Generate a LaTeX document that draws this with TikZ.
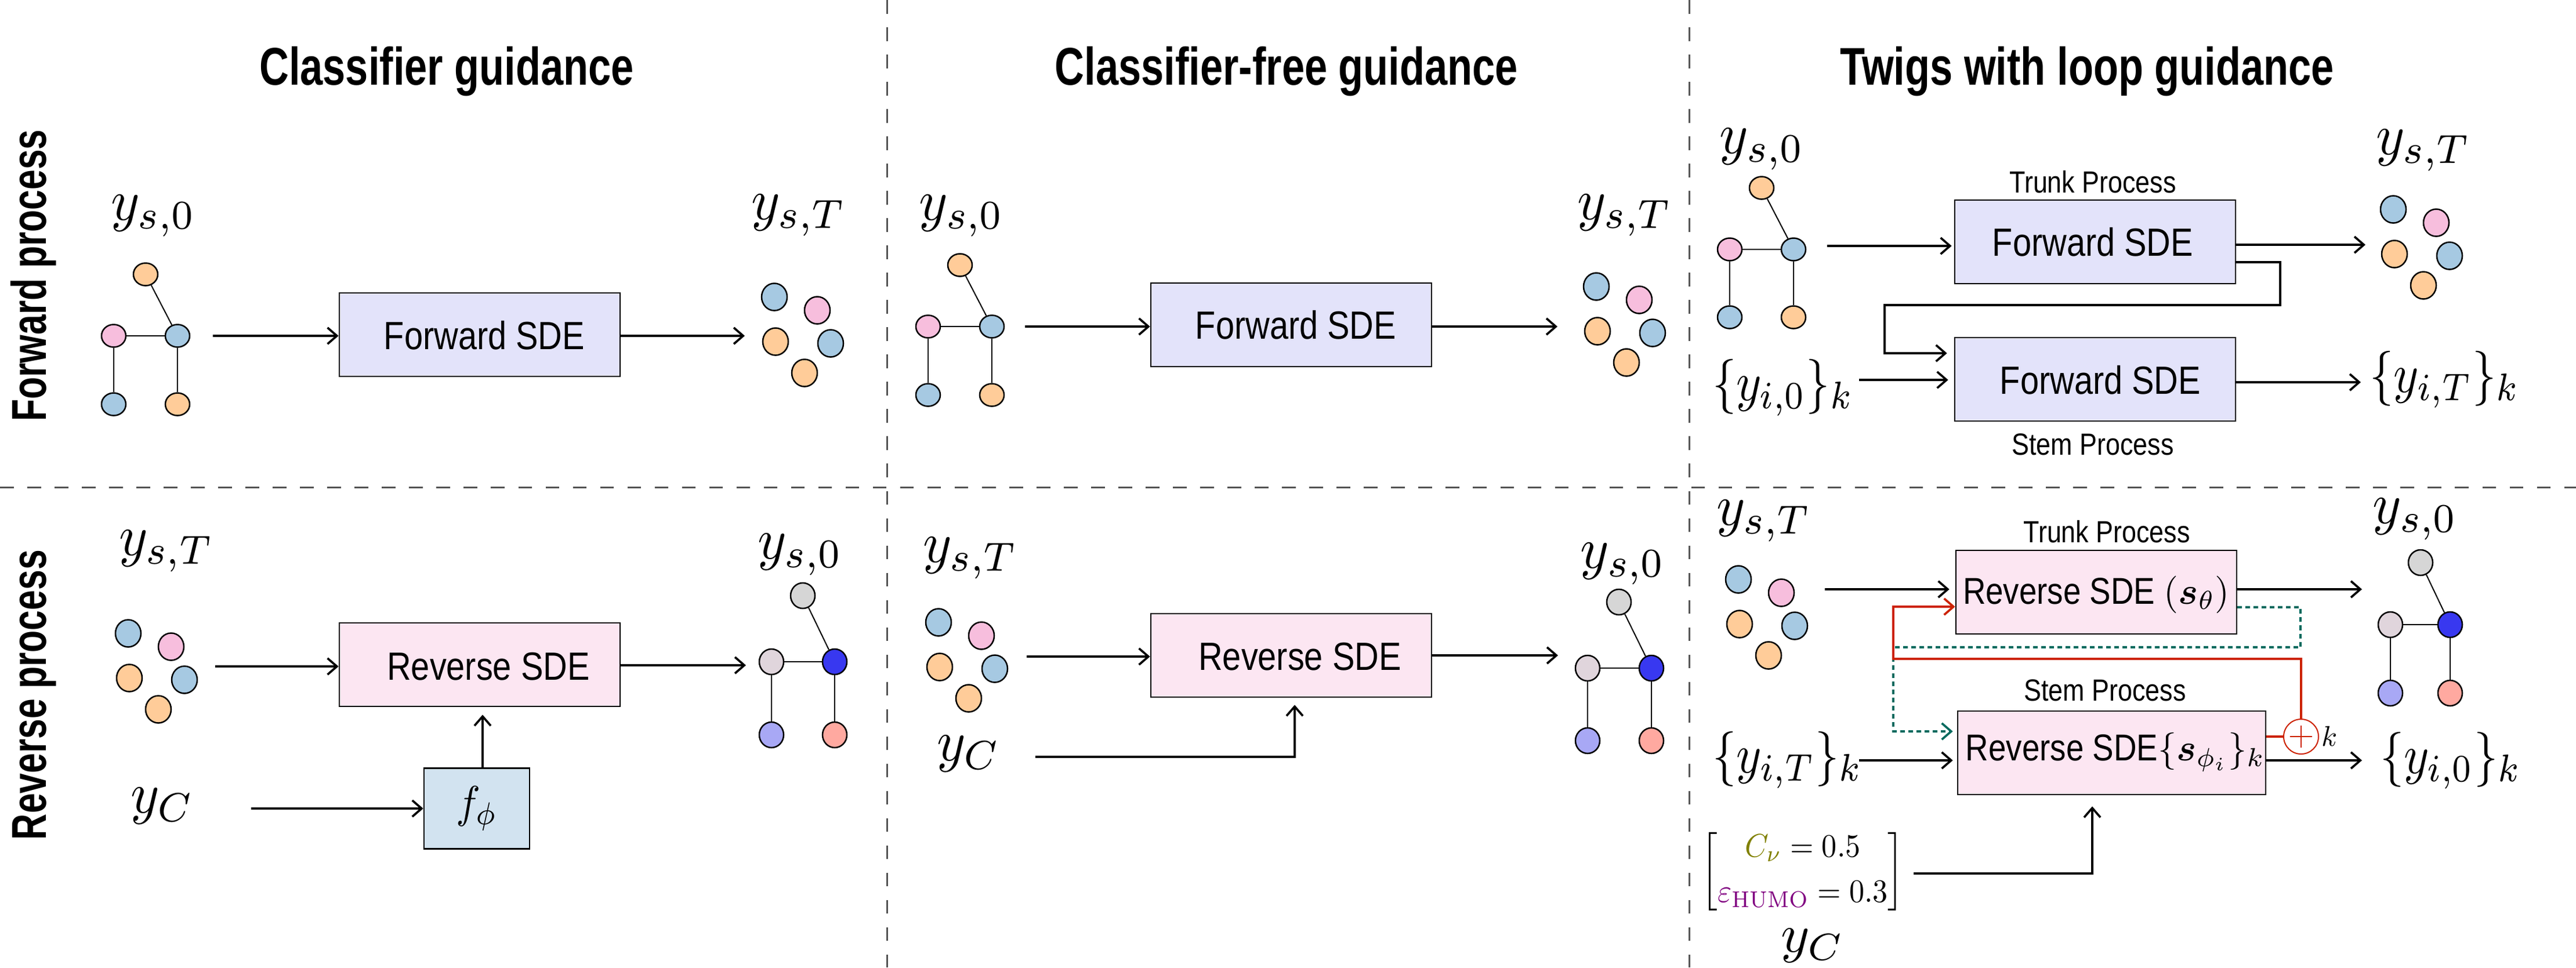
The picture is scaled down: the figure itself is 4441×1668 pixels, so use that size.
\documentclass[tikz,border=0pt]{standalone}
\usepackage{amsmath}
\usepackage[no-math]{fontspec}
\usetikzlibrary{arrows.meta,shapes.geometric}
\newfontfamily\condfont[FakeStretch=.85]{Liberation Sans}
\newfontfamily\headfont[FakeStretch=.77]{Liberation Sans}
\newfontfamily\rowfont[FakeStretch=.74]{Liberation Sans}
\definecolor{Ftop}{HTML}{FFCC99}
\definecolor{Fleft}{HTML}{F7BEDD}
\definecolor{Fright}{HTML}{A6C9E2}
\definecolor{Fbl}{HTML}{A6C9E2}
\definecolor{Fbr}{HTML}{FFCC99}
\definecolor{Rtop}{HTML}{D6D6D6}
\definecolor{Rleft}{HTML}{E0D5DC}
\definecolor{Rright}{HTML}{3838F0}
\definecolor{Rbl}{HTML}{A8A8F5}
\definecolor{Rbr}{HTML}{FFA9A0}
\definecolor{fwdfill}{HTML}{E3E3FA}
\definecolor{revfill}{HTML}{FCE6F2}
\definecolor{clsfill}{HTML}{D2E3F0}
\definecolor{redline}{HTML}{CC2200}
\definecolor{tealline}{HTML}{006A5E}
\definecolor{oliveC}{HTML}{808000}
\definecolor{purpleC}{HTML}{800080}
\definecolor{divider}{HTML}{555555}
\tikzset{
  x=0.01cm, y=-0.01cm,
  tipbarb/.tip={Straight Barb[length=4.6pt,width=8pt,line width=1.05pt]},
  divline/.style={draw=divider, line width=.03cm, dash pattern=on .235cm off .235cm},
  arr/.style={draw=black, line width=.036cm, -tipbarb},
  redarr/.style={draw=redline, line width=.033cm, -tipbarb},
  tealarr/.style={draw=tealline, line width=.035cm, dash pattern=on .08cm off .06cm, -tipbarb},
  procbox/.style={draw=black, line width=.025cm, minimum width=4.84cm, minimum height=1.44cm, inner sep=0pt},
  fwdbox/.style={procbox, fill=fwdfill},
  revbox/.style={procbox, fill=revfill},
  sde/.style={inner sep=0pt, font=\condfont, scale=1.93},
  sdesmall/.style={inner sep=0pt, font=\condfont, scale=1.83},
  proclabel/.style={inner sep=0pt, font=\condfont, scale=1.5},
  mathlbl/.style={inner sep=0pt, xshift=.05cm, xscale=2.68, yscale=2.85},
  setlbl/.style={inner sep=0pt, xscale=2.35, yscale=2.7},
  coltitle/.style={inner sep=0pt, anchor=base, font=\headfont\bfseries, scale=2.6},
  rowtitle/.style={inner sep=0pt, anchor=base, rotate=90, font=\rowfont\bfseries, scale=2.4},
  dot/.style={ellipse, draw=black, line width=.025cm, inner sep=0pt, minimum width=.44cm, minimum height=.47cm},
  gn/.style={ellipse, draw=black, line width=.025cm, inner sep=0pt, minimum width=.42cm},
  gnF/.style={gn, minimum height=.39cm},
  gnR/.style={gn, minimum height=.44cm},
  gedge/.style={draw=black, line width=.02cm},
}
% #1 name, #2 x, #3 y of the right middle node, #4 #5 offset of the top node, #6 offset of the left node, #7 offset of lower nodes, #8 palette F or R
\newcommand{\treegraph}[8]{
  \node[gn#8, fill=#8right] (#1r) at (#2,#3) {};
  \node[gn#8, fill=#8top] (#1t) at (#2+#4,#3+#5) {};
  \node[gn#8, fill=#8left] (#1l) at (#2+#6,#3) {};
  \node[gn#8, fill=#8bl] (#1a) at (#2+#6,#3+#7) {};
  \node[gn#8, fill=#8br] (#1b) at (#2,#3+#7) {};
  \draw[gedge] (#1r) -- (#1t);
  \draw[gedge] (#1r) -- (#1l);
  \draw[gedge] (#1r) -- (#1b);
  \draw[gedge] (#1l) -- (#1a);
}
% #1 name, #2 x, #3 y of the first dot
\newcommand{\dotcloud}[3]{
  \node[dot, fill=Fright] (#1a) at (#2,#3) {};
  \node[dot, fill=Fleft] (#1b) at (#2+74,#3+23) {};
  \node[dot, fill=Ftop] (#1c) at (#2+2,#3+77) {};
  \node[dot, fill=Fright] (#1d) at (#2+97,#3+80) {};
  \node[dot, fill=Ftop] (#1e) at (#2+52,#3+131) {};
}
\begin{document}
\begin{tikzpicture}
\useasboundingbox (0,0) rectangle (4441,1668);
% dividers
\coordinate (dv1a) at (1529,0); \coordinate (dv1b) at (1529,1668);
\coordinate (dv2a) at (2912,0); \coordinate (dv2b) at (2912,1668);
\coordinate (dha) at (0,840); \coordinate (dhb) at (4441,840);
\draw[divline] (dv1a) -- (dv1b);
\draw[divline] (dv2a) -- (dv2b);
\draw[divline] (dha) -- (dhb);
% headings
\node[coltitle] (h1) at (770,146) {Classifier guidance};
\node[coltitle] (h2) at (2218,146) {Classifier-free guidance};
\node[coltitle] (h3) at (3598,146) {Twigs with loop guidance};
\node[rowtitle] (r1) at (80,475) {Forward process};
\node[rowtitle] (r2) at (80,1198) {Reverse process};

% ---------- column 1, forward
\node[fwdbox] (af) at (827,577) {};
\node[sde] (aft) at (835,578) {Forward SDE};
\treegraph{atf}{306}{579}{-55}{-106}{-110}{118}{F}
\dotcloud{adf}{1335}{512}
\node[mathlbl] (afl) at (260,372) {$y_{s,0}$};
\node[mathlbl] (afr) at (1372,371) {$y_{s,T}$};
\coordinate (afin) at (367,579); \coordinate (afout) at (1284,579);
\draw[arr] (afin) -- (afin -| af.west);
\draw[arr] (afout -| af.east) -- (afout);

% ---------- column 1, reverse
\node[revbox] (ar) at (827,1146) {};
\node[sde] (art) at (842,1149) {Reverse SDE};
\treegraph{atr}{1439}{1141}{-55}{-114}{-109}{126}{R}
\dotcloud{adr}{221}{1092}
\node[mathlbl] (arl) at (282,950) {$y_{s,T}$};
\node[mathlbl] (arr) at (1375,956) {$y_{s,0}$};
\node[mathlbl] (ayc) at (275,1390) {$y_C$};
\node[draw=black, line width=.025cm, fill=clsfill, minimum width=1.82cm, minimum height=1.39cm, inner sep=0pt] (afn) at (822,1394) {};
\node[inner sep=0pt, xscale=2, yscale=2.2] (afnt) at (822,1394) {$f_\phi$};
\coordinate (arin) at (371,1149); \coordinate (arout) at (1286,1147);
\coordinate (acin) at (433,1394); \coordinate (acup) at (832,1324);
\draw[arr] (arin) -- (arin -| ar.west);
\draw[arr] (arout -| ar.east) -- (arout);
\draw[arr] (acin) -- (acin -| afn.west);
\draw[arr] (acup) -- (acup |- ar.south) [shorten >=.13cm];

% ---------- column 2, forward
\node[fwdbox] (bf) at (2226,560) {};
\node[sde] (bft) at (2234,560) {Forward SDE};
\treegraph{btf}{1710}{563}{-55}{-106}{-110}{118}{F}
\dotcloud{bdf}{2752}{494}
\node[mathlbl] (bfl) at (1653,372) {$y_{s,0}$};
\node[mathlbl] (bfr) at (2796,371) {$y_{s,T}$};
\coordinate (bfin) at (1767,563); \coordinate (bfout) at (2685,563);
\draw[arr] (bfin) -- (bfin -| bf.west);
\draw[arr] (bfout -| bf.east) -- (bfout);

% ---------- column 2, reverse
\node[revbox] (br) at (2226,1130) {};
\node[sde] (brt) at (2241,1132) {Reverse SDE};
\treegraph{btr}{2847}{1152}{-56}{-114}{-110}{125}{R}
\dotcloud{bdr}{1618}{1073}
\node[mathlbl] (brl) at (1668,962) {$y_{s,T}$};
\node[mathlbl] (brr) at (2793,972) {$y_{s,0}$};
\node[mathlbl] (byc) at (1665,1300) {$y_C$};
\coordinate (brin) at (1770,1132); \coordinate (brout) at (2686,1130);
\coordinate (bca) at (1785,1305); \coordinate (bcb) at (2232,1305);
\draw[arr] (brin) -- (brin -| br.west);
\draw[arr] (brout -| br.east) -- (brout);
\draw[arr] (bca) -- (bcb) -- (bcb |- br.south) [shorten >=.12cm];

% ---------- column 3, forward
\node[fwdbox] (ctf) at (3612,417) {};
\node[sde] (ctft) at (3608,417) {Forward SDE};
\node[fwdbox] (csf) at (3612,654) {};
\node[sde] (csft) at (3621,655) {Forward SDE};
\node[proclabel] (ctfl) at (3608,314) {Trunk Process};
\node[proclabel] (csfl) at (3608,766) {Stem Process};
\treegraph{ctg}{3092}{430}{-55}{-106}{-110}{117}{F}
\dotcloud{cdf}{4126}{361}
\node[mathlbl] (cfl) at (3033,257) {$y_{s,0}$};
\node[mathlbl] (cfr) at (4173,259) {$y_{s,T}$};
\node[setlbl] (cfa) at (3074,668) {$\{y_{i,0}\}_k$};
\node[setlbl] (cfb) at (4215,654) {$\{y_{i,T}\}_k$};
\coordinate (cfin) at (3150,424); \coordinate (cfout) at (4078,422);
\coordinate (csin) at (3205,655); \coordinate (csout) at (4070,659);
\coordinate (ce1) at (3931,452); \coordinate (ce2) at (3931,526);
\coordinate (ce3) at (3249,526); \coordinate (ce4) at (3249,609);
\draw[arr] (cfin) -- (cfin -| ctf.west) [shorten >=.04cm];
\draw[arr] (cfout -| ctf.east) -- (cfout);
\draw[arr] (csin) -- (csin -| csf.west) [shorten >=.1cm];
\draw[arr] (csout -| csf.east) -- (csout);
\draw[arr] (ce1 -| ctf.east) -- (ce1) -- (ce2) -- (ce3) -- (ce4) -- (ce4 -| csf.west) [shorten >=.12cm];

% ---------- column 3, reverse
\node[revbox] (ctr) at (3614,1021) {};
\node[sdesmall] (ctrt) at (3614,1025) {Reverse SDE $(\boldsymbol{s}_\theta)$};
\node[revbox, minimum width=5.31cm] (csr) at (3640.5,1298) {};
\node[sdesmall] (csrt) at (3647,1297) {Reverse SDE$\{\boldsymbol{s}_{\phi_i}\}_k$};
\node[proclabel] (ctrl) at (3632,917) {Trunk Process};
\node[proclabel] (csrl) at (3629,1190) {Stem Process};
\treegraph{crg}{4224}{1077}{-51}{-107}{-103}{118}{R}
\dotcloud{cdr}{2997}{999}
\node[mathlbl] (crl) at (3036,898) {$y_{s,T}$};
\node[mathlbl] (crr) at (4159,895) {$y_{s,0}$};
\node[setlbl] (cra) at (3082,1310) {$\{y_{i,T}\}_k$};
\node[setlbl] (crb) at (4225,1311) {$\{y_{i,0}\}_k$};
\node[inner sep=0pt, xscale=1.48, yscale=1.6] (cmat) at (3108,1503) {$\begin{bmatrix} \textcolor{oliveC}{C_\nu} = 0.5\\[2pt] \textcolor{purpleC}{\varepsilon_{\mathrm{HUMO}}} = 0.3 \end{bmatrix}$};
\node[inner sep=0pt, xshift=.05cm, xscale=2.68, yscale=2.65] (cyc) at (3120,1630) {$y_C$};
\node[circle, draw=redline, fill=white, line width=.02cm, inner sep=0pt, minimum size=.6cm] (cplus) at (3967,1270) {};
\draw[draw=redline, line width=.02cm] ([xshift=-.19cm]cplus.center) -- ([xshift=.19cm]cplus.center);
\draw[draw=redline, line width=.02cm] ([yshift=-.19cm]cplus.center) -- ([yshift=.19cm]cplus.center);
\node[inner sep=0pt, scale=1.4] (cpk) at (4016,1269) {$k$};
\coordinate (crin) at (3146,1016); \coordinate (crout) at (4072,1016);
\coordinate (csrin) at (3205,1311); \coordinate (csrout) at (4072,1311);
\coordinate (cma) at (3299,1506); \coordinate (cmb) at (3607,1506);
\draw[arr] (crin) -- (crin -| ctr.west) [shorten >=.1cm];
\draw[arr] (crout -| ctr.east) -- (crout);
\draw[arr] (csrin) -- (csrin -| csr.west) [shorten >=.07cm];
\draw[arr] (csrout -| csr.east) -- (csrout);
\draw[arr] (cma) -- (cmb) -- (cmb |- csr.south) [shorten >=.19cm];
% loop connectors
\coordinate (ct1) at (3966,1047); \coordinate (ct2) at (3966,1116);
\coordinate (ct3) at (3264,1116); \coordinate (ct4) at (3264,1261);
\draw[tealarr] (ct1 -| ctr.east) -- (ct1) -- (ct2) -- (ct3) -- (ct4) -- (ct4 -| csr.west) [shorten >=.07cm];
\coordinate (cr1) at (3264,1136); \coordinate (cr2) at (3264,1046);
\draw[redarr] (cplus.north) -- (cplus.north |- cr1) -- (cr1) -- (cr2) -- (cr2 -| ctr.west);
\draw[draw=redline, line width=.033cm] (cplus.west -| csr.east) -- (cplus.west);
\end{tikzpicture}
\end{document}
